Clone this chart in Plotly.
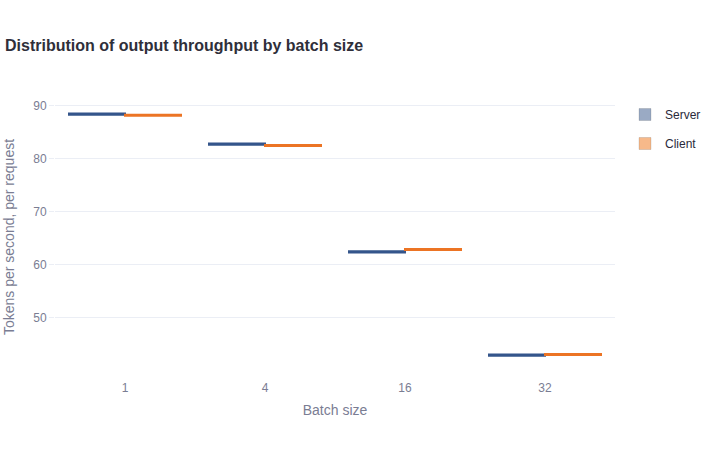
import plotly.graph_objects as go

batch_sizes = ["1", "4", "16", "32"]
server_median = [88.4, 82.75, 62.45, 43.0]
server_q1 = [88.3, 82.65, 62.35, 42.9]
server_q3 = [88.5, 82.85, 62.55, 43.1]
client_median = [88.2, 82.5, 62.9, 43.1]
client_q1 = [88.1, 82.4, 62.8, 43.0]
client_q3 = [88.3, 82.6, 63.0, 43.2]

SERVER = "#34558b"
CLIENT = "#ec7424"

fig = go.Figure()
fig.add_trace(go.Box(
    name="Server", x=batch_sizes, q1=server_q1, median=server_median, q3=server_q3,
    lowerfence=server_q1, upperfence=server_q3,
    marker_color=SERVER, line=dict(color=SERVER, width=2),
    fillcolor="rgba(52,85,139,0.5)", showlegend=False,
))
fig.add_trace(go.Box(
    name="Client", x=batch_sizes, q1=client_q1, median=client_median, q3=client_q3,
    lowerfence=client_q1, upperfence=client_q3,
    marker_color=CLIENT, line=dict(color=CLIENT, width=2),
    fillcolor="rgba(236,116,36,0.5)", showlegend=False,
))
# legend entries (flat swatches like the reference)
fig.add_trace(go.Bar(x=[None], y=[None], name="Server", legendgroup="server",
                     marker=dict(color="#9aaac4", line=dict(color="rgba(0,0,0,0.12)", width=1))))
fig.add_trace(go.Bar(x=[None], y=[None], name="Client", legendgroup="client",
                     marker=dict(color="#f7b98a", line=dict(color="rgba(0,0,0,0.12)", width=1))))

fig.update_layout(
    width=704, height=450,
    template="plotly_white",
    font=dict(family="Helvetica Neue, Liberation Sans, Arial, sans-serif", color="#2a3f5f"),
    title=dict(text="<b>Distribution of output throughput by batch size</b>",
               x=5/704, xref="container", xanchor="left", y=1-45/450, yanchor="middle",
               font=dict(size=16, color="#2f2f3a")),
    boxmode="group", boxgap=0.2, boxgroupgap=0,
    margin=dict(l=55, r=89, t=95, b=71, autoexpand=False),
    legend=dict(x=625/704, xref="container", xanchor="left", y=1-100/450, yref="container",
                yanchor="top", tracegroupgap=10, font=dict(size=12, color="#2a2a3a")),
    xaxis=dict(title=dict(text="Batch size", font=dict(size=14, color="#7a7d93"), standoff=11),
               tickfont=dict(size=12, color="#7a7d93"), type="category", showgrid=False,
               categoryorder="array", categoryarray=batch_sizes),
    yaxis=dict(title=dict(text="Tokens per second, per request", font=dict(size=14, color="#7a7d93")),
               tickfont=dict(size=12, color="#7a7d93"), range=[38.5, 92], tickvals=[50, 60, 70, 80, 90],
               ticks="outside", ticklen=5, tickcolor="#ebeef5", gridcolor="#ebeef5",
               zeroline=False),
)
fig.write_html("out.html")
